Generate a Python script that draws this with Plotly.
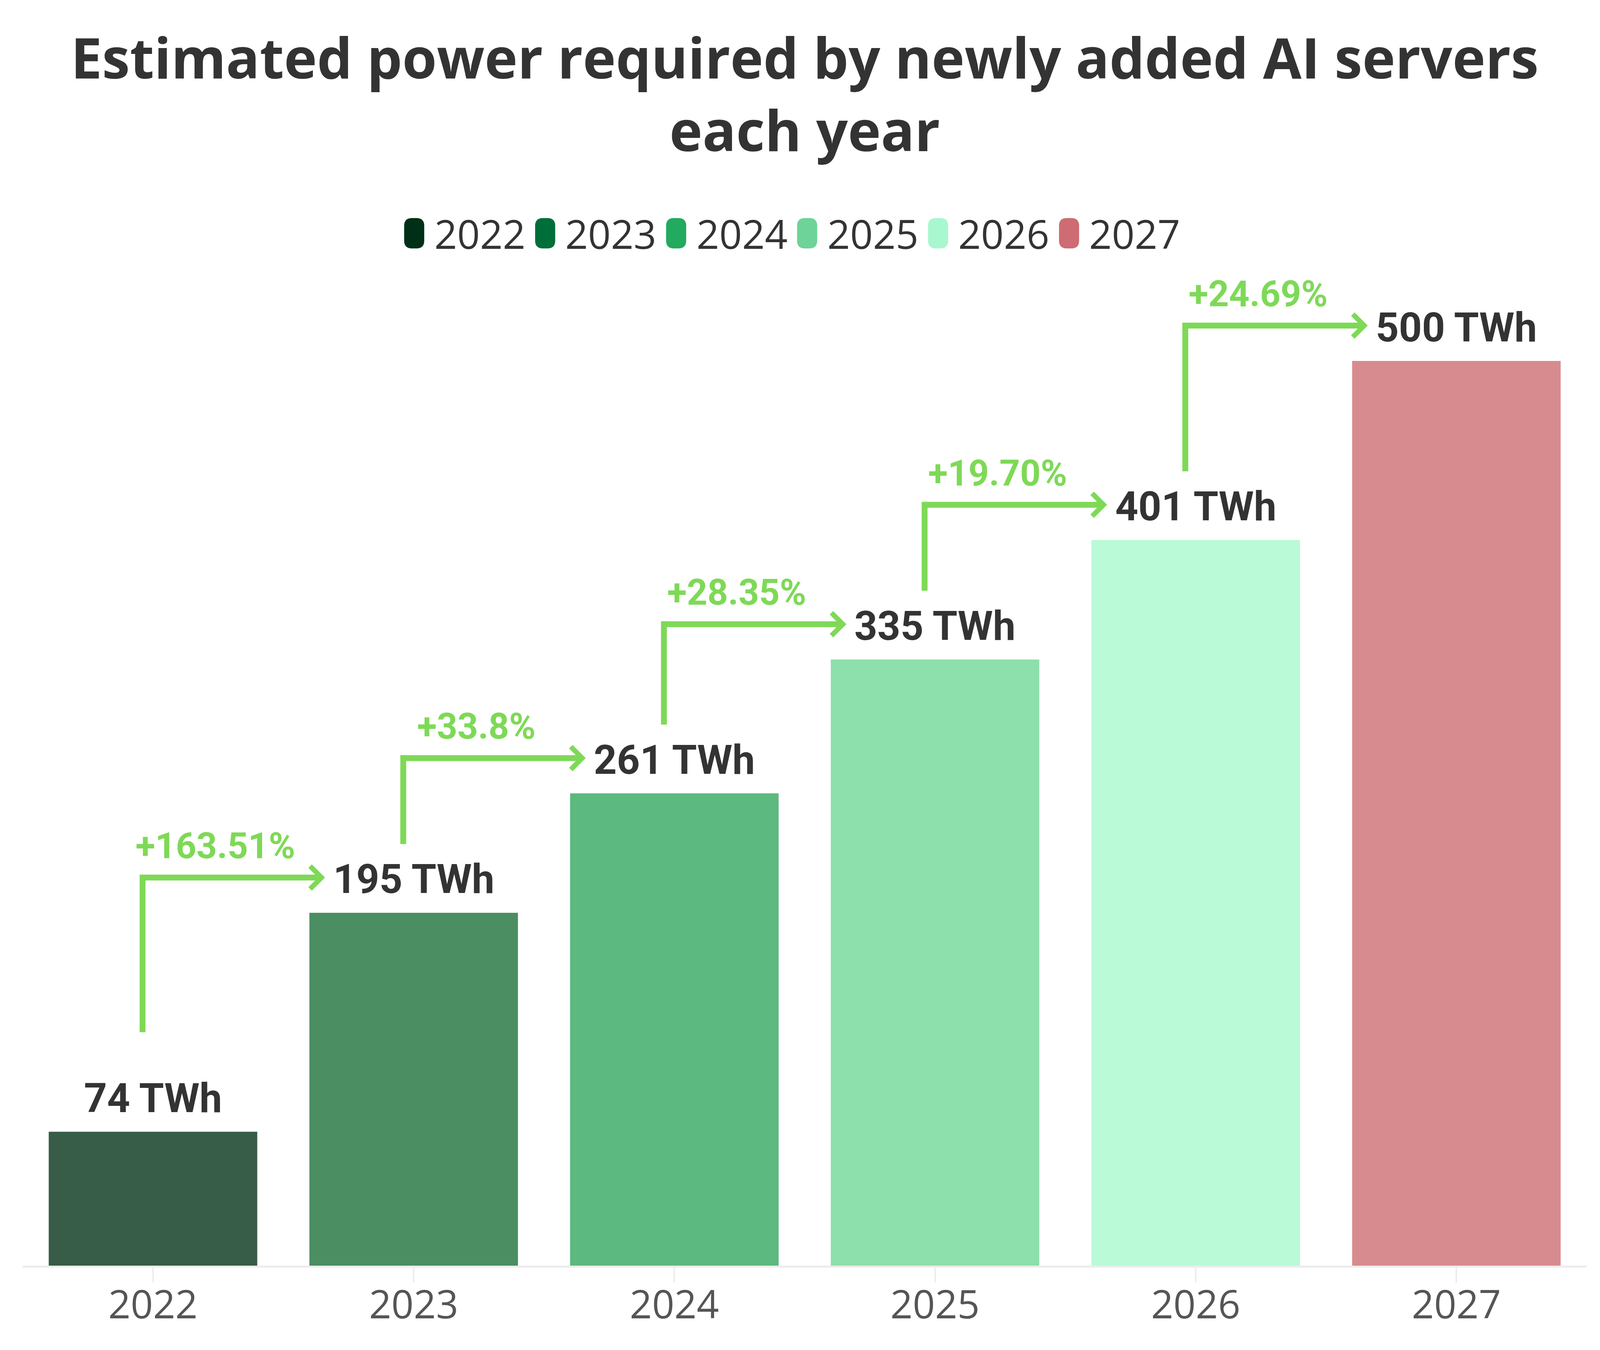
import plotly.graph_objects as go

# ---------------- data ----------------
years = ["2022", "2023", "2024", "2025", "2026", "2027"]
power_twh = [74, 195, 261, 335, 401, 500]
growth_labels = ["+163.51%", "+33.8%", "+28.35%", "+19.70%", "+24.69%"]
bar_colors = ["#375c47", "#4a8e62", "#5cb97f", "#8ddfab", "#bafad6", "#d78b8f"]
legend_colors = ["#002f18", "#006e38", "#22aa5e", "#6dd398", "#a8f7cf", "#cf6b73"]
title_text = "Estimated power required by newly added AI servers<br>each year"

# ---------------- layout constants ----------------
# the browser viewport is 4096 x 3456 with an 8px body margin
W, H = 4088, 3448
REF_W, REF_H = 4608, 3456
sx, sy = W / REF_W, H / REF_H

ML, MR = 56 * sx, 38 * sx
MT, MB = 639 * sy, 217 * sy
YMAX = 560
PLOT_W = W - ML - MR
PLOT_H = H - MT - MB
PX_PER_UNIT = PLOT_H / YMAX

GREEN = "#7ed957"
DARK = "#333333"
LINE_W = 15

idx = list(range(len(years)))


def px_to_paper_x(px):
    return (px - ML) / PLOT_W


def px_to_paper_y(py):
    return (H - MB - py) / PLOT_H


fig = go.Figure()
fig.add_trace(go.Bar(
    x=idx, y=power_twh,
    marker=dict(color=bar_colors, line=dict(width=0)),
    showlegend=False, hoverinfo="skip",
))

annotations = []
shapes = []

# value labels above bars
for i, v in zip(idx, power_twh):
    annotations.append(dict(
        x=i, y=v, xref="x", yref="y", yanchor="middle", yshift=86 * sy,
        text=f"{v} TWh", showarrow=False,
        font=dict(family="Roboto", size=103, color=DARK, weight=700),
    ))

# growth arrows
half_w_units = (LINE_W / 2) / PX_PER_UNIT
half_w_cat = (LINE_W / 2) / (PLOT_W / len(years))
for i, lab in enumerate(growth_labels):
    x_v = i - 0.04
    y_bot = power_twh[i] + (55 if i == 0 else 38)
    y_h = power_twh[i + 1] + 19.5
    x_end = i + 1 - 0.34
    shapes.append(dict(
        type="line", xref="x", yref="y",
        x0=x_v, x1=x_v, y0=y_bot, y1=y_h + half_w_units,
        line=dict(color=GREEN, width=LINE_W),
    ))
    annotations.append(dict(
        x=x_end, y=y_h, xref="x", yref="y",
        ax=x_v - half_w_cat, ay=y_h, axref="x", ayref="y",
        text="", showarrow=True, arrowhead=4, arrowsize=0.75,
        arrowwidth=LINE_W, arrowcolor=GREEN, standoff=0,
    ))
    annotations.append(dict(
        x=i + 0.24, y=power_twh[i + 1] + 37, xref="x", yref="y",
        yanchor="middle", text=lab, showarrow=False,
        font=dict(family="Roboto", size=92, color=GREEN, weight=700),
    ))

# legend (custom, rounded swatches)
LEG_X0 = 1157 * sx
LEG_STEP = 378 * sx
LEG_TXT = 85 * sx
LEG_CY = 590 * sy
SW_W, SW_H, SW_R = 58 * sx, 78 * sy, 20
hw, hh, r = SW_W / 2, SW_H / 2, SW_R
swatch_path = (
    f"M {-hw + r},{-hh} L {hw - r},{-hh} Q {hw},{-hh} {hw},{-hh + r} "
    f"L {hw},{hh - r} Q {hw},{hh} {hw - r},{hh} L {-hw + r},{hh} "
    f"Q {-hw},{hh} {-hw},{hh - r} L {-hw},{-hh + r} Q {-hw},{-hh} {-hw + r},{-hh} Z"
)
for k, (yr, col) in enumerate(zip(years, legend_colors)):
    left = LEG_X0 + k * LEG_STEP
    shapes.append(dict(
        type="path", xref="paper", yref="paper",
        xsizemode="pixel", ysizemode="pixel",
        xanchor=px_to_paper_x(left + hw), yanchor=px_to_paper_y(LEG_CY),
        path=swatch_path, fillcolor=col, line=dict(width=0),
    ))
    annotations.append(dict(
        x=px_to_paper_x(left + LEG_TXT), y=px_to_paper_y(LEG_CY),
        xref="paper", yref="paper", xanchor="left", yanchor="middle",
        text=yr, showarrow=False,
        font=dict(family="Open Sans", size=102, color=DARK),
    ))

fig.update_layout(
    width=W, height=H,
    margin=dict(l=ML, r=MR, t=MT, b=MB, pad=0),
    paper_bgcolor="white", plot_bgcolor="white",
    bargap=0.2,
    showlegend=False,
    title=dict(
        text=title_text, x=0.5, xanchor="center", xref="paper",
        y=0.944, yanchor="top", yref="container",
        font=dict(family="Open Sans", size=143, color=DARK, weight=700),
    ),
    xaxis=dict(
        tickmode="array", tickvals=idx, ticktext=years,
        range=[-0.5, len(years) - 0.5],
        showgrid=False, zeroline=False,
        showline=True, linecolor="#ececec", linewidth=5,
        ticks="outside", ticklen=38, tickwidth=4, tickcolor="#ececec",
        ticklabelstandoff=-28,
        tickfont=dict(family="Open Sans", size=100, color="#555555"),
    ),
    yaxis=dict(visible=False, range=[0, YMAX], fixedrange=True),
    annotations=annotations,
    shapes=shapes,
)

fig.write_html("out.html")
